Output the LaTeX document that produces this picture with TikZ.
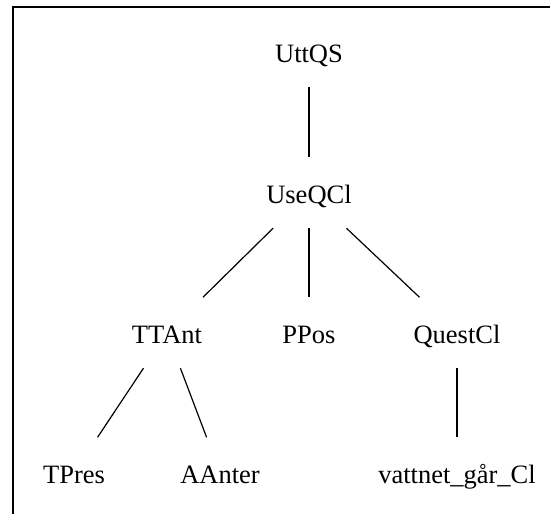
\documentclass[tikz,border=0pt]{standalone}
\usepackage{fontspec}
\setmainfont{Liberation Serif}
\begin{document}
\begin{tikzpicture}[x=1pt,y=-1pt,
word/.style={
% The label:
rectangle,
anchor=base,
font=\fontsize{26.5}{30}\selectfont,
text height=35.5pt,
text depth=15pt,
inner xsep=3pt,
inner ysep=10pt
},
branch/.style={
line width=1.2pt
}
]
\useasboundingbox (0,0) rectangle (550,514);
\begin{scope}
\clip (0,0) rectangle (550,514);
\draw[line width=1.6pt] (13,7) rectangle (600,560);
\end{scope}
% Top:
\node (uttqs) [word] at (309,62) {UttQS};
\node (useqcl) [word] at (309,203) {UseQCl};
% Middle row:
\node (ttant) [word] at (167,343) {TTAnt};
\node (ppos) [word] at (309,343) {PPos};
\node (questcl) [word] at (457,343) {QuestCl};
% Leaves:
\node (tpres) [word] at (74,483) {TPres};
\node (aanter) [word] at (220,483) {AAnter};
\node (vattnet) [word] at (457,483) {vattnet\_går\_Cl};

\path[branch] (uttqs) edge (useqcl) (useqcl) edge (ttant) (useqcl) edge (ppos) (useqcl) edge (questcl);
\path[branch] (ttant) edge (tpres) (ttant) edge (aanter) (questcl) edge (vattnet);
\end{tikzpicture}
\end{document}
